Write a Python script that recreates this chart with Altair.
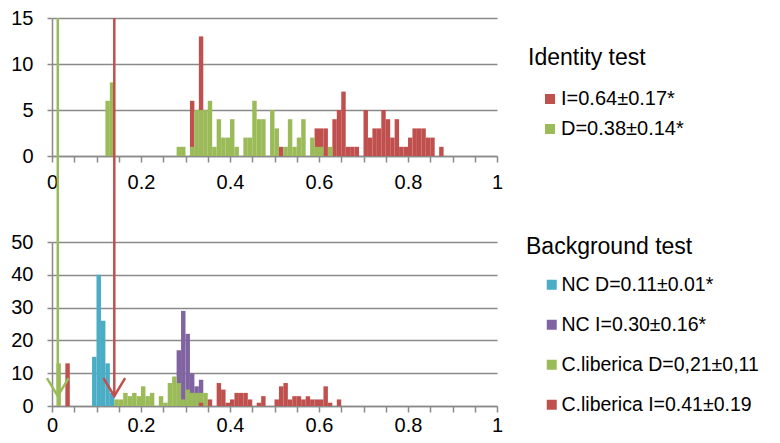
import altair as alt
import pandas as pd

# ---------------- data (bin start, count) ----------------
# Identity test
id_title = "Identity test"
id_series = ["I=0.64±0.17*", "D=0.38±0.14*"]
id_colors = ["#C0504D", "#9BBB59"]
id_I_bins = [0.31, 0.33, 0.51, 0.59, 0.60, 0.61, 0.63, 0.64, 0.65, 0.66, 0.67, 0.68,
             0.70, 0.71, 0.72, 0.73, 0.74, 0.75, 0.76, 0.77, 0.78, 0.79, 0.80, 0.81,
             0.82, 0.83, 0.84, 0.85, 0.87]
id_I_counts = [6, 13, 1, 3, 3, 3, 4, 5, 7, 1, 1, 1,
               5, 2, 3, 3, 5, 4, 2, 4, 1, 1, 2, 3,
               3, 3, 2, 2, 1]
id_D_bins = [0.12, 0.13, 0.28, 0.29, 0.31, 0.32, 0.33, 0.34, 0.35, 0.36, 0.37, 0.38,
             0.39, 0.40, 0.41, 0.43, 0.44, 0.45, 0.46, 0.47, 0.49, 0.50, 0.52, 0.53,
             0.54, 0.55, 0.56, 0.58, 0.59, 0.60, 0.62]
id_D_counts = [6, 8, 1, 1, 1, 5, 5, 5, 6, 1, 4, 2,
               2, 4, 1, 2, 2, 6, 4, 4, 5, 3, 1, 4,
               1, 2, 4, 2, 1, 1, 1]

# Background test
bg_title = "Background test"
bg_series = ["NC D=0.11±0.01*", "NC I=0.30±0.16*", "C.liberica D=0,21±0,11", "C.liberica I=0.41±0.19"]
bg_colors = ["#4BACC6", "#8064A2", "#9BBB59", "#C0504D"]
nc_D_bins = [0.09, 0.10, 0.11, 0.12, 0.13]
nc_D_counts = [15, 40, 26, 13, 4]
nc_I_bins = [0.28, 0.29, 0.30, 0.31, 0.32, 0.33]
nc_I_counts = [17, 29, 22, 10, 6, 8]
cl_D_bins = [0.01, 0.14, 0.15, 0.16, 0.17, 0.18, 0.19, 0.20, 0.21, 0.22, 0.24, 0.25,
             0.26, 0.27, 0.28, 0.29, 0.30, 0.31, 0.32, 0.33, 0.34]
cl_D_counts = [13, 2, 2, 4, 3, 4, 3, 6, 3, 4, 3, 1,
               7, 9, 7, 2, 5, 4, 4, 4, 4]
cl_I_bins = [0.03, 0.33, 0.35, 0.37, 0.38, 0.39, 0.40, 0.41, 0.42, 0.43, 0.44, 0.46,
             0.47, 0.50, 0.51, 0.52, 0.53, 0.54, 0.55, 0.56, 0.57, 0.58, 0.59, 0.60,
             0.61, 0.62, 0.64]
cl_I_counts = [13, 1, 2, 7, 5, 1, 2, 4, 4, 4, 2, 1,
               3, 2, 6, 7, 2, 3, 3, 2, 3, 2, 2, 2,
               6, 1, 2]

# threshold lines (observed values) and arrow tip level
line_x = [0.013, 0.14]
line_colors = ["#9BBB59", "#C0504D"]
arrow_tip = [3, 3]

BIN = 0.01
GRAY = "#8A8A8A"
FONT = "Liberation Sans"


def make_df(names, bins_list, counts_list):
    rows = []
    for name, bins, counts in zip(names, bins_list, counts_list):
        for b, c in zip(bins, counts):
            rows.append({"series": name, "x0": b, "x1": round(b + BIN, 3), "count": c})
    return pd.DataFrame(rows)


id_df = make_df(id_series, [id_I_bins, id_D_bins], [id_I_counts, id_D_counts])
bg_df = make_df(bg_series, [nc_D_bins, nc_I_bins, cl_D_bins, cl_I_bins],
                [nc_D_counts, nc_I_counts, cl_D_counts, cl_I_counts])
lines_df = pd.DataFrame({"x": line_x, "tip": arrow_tip, "c": line_colors})

tick_vals = [round(i * 0.05, 2) for i in range(21)]
W = 445


def x_axis(pad):
    return alt.Axis(values=tick_vals, format=".2~f",
                    labelExpr="round(datum.value*100) % 20 == 0 ? datum.label : ''",
                    grid=False, tickSize=6, tickColor=GRAY, tickWidth=1.5,
                    domainColor=GRAY, domainWidth=1.5, labelPadding=pad,
                    labelFontSize=20, labelFont=FONT, labelColor="black",
                    labelFlush=False, labelOverlap=False, title=None)


def y_axis(vals):
    return alt.Axis(values=vals, grid=True, gridColor=GRAY, gridWidth=1.5,
                    domainColor=GRAY, domainWidth=1.5, tickSize=5, tickColor=GRAY,
                    tickWidth=1.5, labelPadding=14, labelFontSize=20, labelFont=FONT,
                    labelColor="black", labelFlush=False, labelOverlap=False, title=None)


def legend(lx, ly, row_pad, lab_off, fs):
    return alt.Legend(title=None, orient="none", legendX=lx, legendY=ly, padding=0,
                      labelFontSize=fs, labelFont=FONT, labelColor="black", labelLimit=0,
                      symbolType="square", symbolSize=100, symbolStrokeWidth=0,
                      labelOffset=lab_off, rowPadding=row_pad)


def title_text(txt, x, y):
    return alt.Chart(pd.DataFrame({"t": [txt]})).mark_text(
        align="left", baseline="alphabetic", fontSize=23, font=FONT, color="black"
    ).encode(text="t:N", x=alt.value(x), y=alt.value(y))


xs = alt.Scale(domain=[0, 1], nice=False, zero=False)
ys_top = alt.Scale(domain=[0, 15], nice=False)
ys_bot = alt.Scale(domain=[0, 50], nice=False)
ax_top_x, ax_bot_x = x_axis(10), x_axis(3)
ax_top_y, ax_bot_y = y_axis([0, 5, 10, 15]), y_axis([0, 10, 20, 30, 40, 50])

top_bars = alt.Chart(id_df).mark_bar(strokeWidth=0).encode(
    x=alt.X("x0:Q", scale=xs, axis=ax_top_x),
    x2="x1:Q",
    y=alt.Y("count:Q", stack=None, scale=ys_top, axis=ax_top_y),
    y2=alt.datum(0),
    color=alt.Color("series:N", scale=alt.Scale(domain=id_series, range=id_colors),
                    legend=legend(488, 71, 10, 1, 20)),
)
top = alt.layer(top_bars, title_text(id_title, 476, 46.5)).properties(width=W, height=138)

bg_bars = alt.Chart(bg_df).mark_bar(strokeWidth=0).encode(
    x=alt.X("x0:Q", scale=xs, axis=ax_bot_x),
    x2="x1:Q",
    y=alt.Y("count:Q", stack=None, scale=ys_bot, axis=ax_bot_y),
    y2=alt.datum(0),
    color=alt.Color("series:N", scale=alt.Scale(domain=bg_series, range=bg_colors),
                    legend=legend(490, 33, 19, 0, 19.5)),
)

rules = alt.Chart(lines_df).mark_rule(strokeWidth=2.5).encode(
    x=alt.X("x:Q", scale=xs, axis=ax_bot_x),
    y=alt.Y("tip:Q", scale=ys_bot, axis=ax_bot_y),
    y2=alt.value(-224),
    stroke=alt.Stroke("c:N", scale=None),
)

heads = alt.Chart(lines_df).mark_point(
    shape="M -0.6 -1 L 0 0 L 0.6 -1", filled=False, size=1296, strokeWidth=2.5, opacity=1
).encode(
    x=alt.X("x:Q", scale=xs, axis=ax_bot_x),
    y=alt.Y("tip:Q", scale=ys_bot, axis=ax_bot_y),
    stroke=alt.Stroke("c:N", scale=None),
)

bottom = alt.layer(bg_bars, title_text(bg_title, 474, 12.2), rules, heads).properties(width=W, height=164)

chart = alt.vconcat(top, bottom, spacing=86, bounds="flush").resolve_scale(
    color="independent", y="independent", x="independent"
).properties(
    padding={"left": 2, "top": 0, "right": 0, "bottom": 0}
).configure_view(stroke=None)

chart.save("out.html", embed_options={"renderer": "svg", "actions": False})
